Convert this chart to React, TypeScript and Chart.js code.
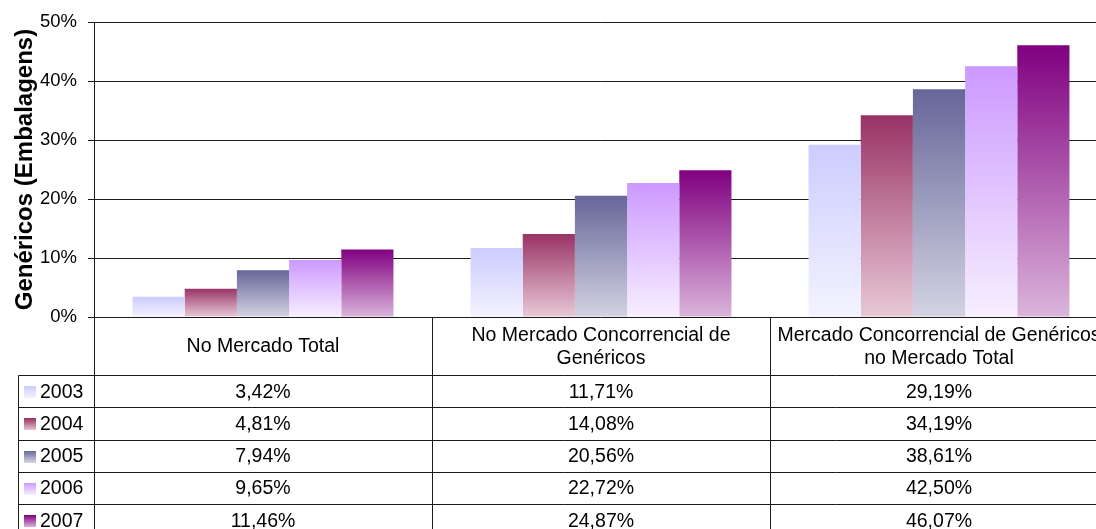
import React, { useEffect, useRef } from "react";
import { Chart, registerables } from "chart.js";

Chart.register(...registerables);

// ---- data ----
const categoryLines: string[][] = [
  ["No Mercado Total"],
  ["No Mercado Concorrencial de", "Genéricos"],
  ["Mercado Concorrencial de Genéricos", "no Mercado Total"],
];
const seriesLabels = ["2003", "2004", "2005", "2006", "2007"];
const values2003 = [3.42, 11.71, 29.19];
const values2004 = [4.81, 14.08, 34.19];
const values2005 = [7.94, 20.56, 38.61];
const values2006 = [9.65, 22.72, 42.5];
const values2007 = [11.46, 24.87, 46.07];
const seriesValues = [values2003, values2004, values2005, values2006, values2007];
const yTickValues = [0, 10, 20, 30, 40, 50];
const axisTitle = "Genéricos (Embalagens)";

// ---- styles ----
const topColors = ["#CCCCFF", "#993366", "#666699", "#CC99FF", "#800080"];
const bottomColors = ["#F3F3FF", "#E8C9D6", "#D3D3E3", "#F7EFFF", "#DBB5DB"];
const FONT = '"Liberation Sans", Arial, sans-serif';
const CANVAS_W = 1110;
const CANVAS_H = 529;

const fmt = (v: number) => v.toFixed(2).replace(".", ",") + "%";

const tablePlugin = {
  id: "dataTable",
  afterDraw(chart: any) {
    const { ctx, scales } = chart;
    const x = scales.x;
    const y = scales.y;
    const baseY = y.getPixelForValue(0);
    const n = categoryLines.length;
    const catW = x.getPixelForValue(1) - x.getPixelForValue(0);
    const bounds: number[] = [];
    for (let i = 0; i < n; i++) bounds.push(x.getPixelForValue(i) - catW / 2);
    bounds.push(x.getPixelForValue(n - 1) + catW / 2);
    const headerH = 58;
    const rowH = 32.25;
    const legendLeft = 18;
    const headerBottom = baseY + headerH;
    const a = (v: number) => Math.round(v) + 0.5;

    ctx.save();
    ctx.strokeStyle = "#1a1a1a";
    ctx.lineWidth = 1;
    ctx.beginPath();
    for (let i = 0; i < bounds.length; i++) {
      ctx.moveTo(a(bounds[i]), a(baseY));
      ctx.lineTo(a(bounds[i]), CANVAS_H);
    }
    ctx.moveTo(a(legendLeft), a(headerBottom));
    ctx.lineTo(a(legendLeft), CANVAS_H);
    for (let r = 0; r <= seriesLabels.length; r++) {
      const yy = a(headerBottom + r * rowH);
      ctx.moveTo(a(legendLeft), yy);
      ctx.lineTo(bounds[n], yy);
    }
    ctx.stroke();

    ctx.fillStyle = "#000";
    ctx.font = `19.5px ${FONT}`;
    ctx.textAlign = "center";
    ctx.textBaseline = "middle";
    const lh = 23.5;
    categoryLines.forEach((lines, i) => {
      const cx = x.getPixelForValue(i);
      const cy = baseY + headerH / 2;
      const start = cy - ((lines.length - 1) * lh) / 2;
      lines.forEach((t, j) => ctx.fillText(t, cx, start + j * lh + 1));
    });

    seriesLabels.forEach((lab, r) => {
      const cy = headerBottom + r * rowH + rowH / 2 + 1;
      const g = ctx.createLinearGradient(0, cy - 6, 0, cy + 6);
      g.addColorStop(0, topColors[r]);
      g.addColorStop(1, bottomColors[r]);
      ctx.fillStyle = g;
      ctx.fillRect(24, Math.round(cy - 6), 12, 12);
      ctx.fillStyle = "#000";
      ctx.textAlign = "left";
      ctx.fillText(lab, 40, cy);
      ctx.textAlign = "center";
      seriesValues[r].forEach((v, i) => {
        ctx.fillText(fmt(v), x.getPixelForValue(i), cy);
      });
    });
    ctx.restore();
  },
};

export default function App() {
  const ref = useRef<HTMLCanvasElement | null>(null);

  useEffect(() => {
    if (!ref.current) return;
    const chart = new Chart(ref.current, {
      type: "bar",
      data: {
        labels: categoryLines.map((l) => l.join(" ")),
        datasets: seriesLabels.map((label, si) => ({
          label,
          data: seriesValues[si],
          borderWidth: 0,
          barPercentage: 1,
          categoryPercentage: 0.772,
          backgroundColor: (c: any) => {
            const chartObj = c.chart;
            const sc = chartObj.scales;
            if (c.type !== "data" || !sc || !sc.y) return topColors[si];
            const v = c.raw as number;
            const top = sc.y.getPixelForValue(v);
            const bot = sc.y.getPixelForValue(0);
            if (!isFinite(top) || !isFinite(bot) || top === bot) return topColors[si];
            const g = chartObj.ctx.createLinearGradient(0, top, 0, bot);
            g.addColorStop(0, topColors[si]);
            g.addColorStop(1, bottomColors[si]);
            return g;
          },
        })),
      },
      options: {
        responsive: false,
        animation: false,
        layout: { padding: { top: 22, bottom: CANVAS_H - 317, left: 0, right: CANVAS_W - 1108 } },
        plugins: {
          legend: { display: false },
          tooltip: { enabled: false },
        },
        scales: {
          x: { display: false, offset: true },
          y: {
            min: 0,
            max: 50,
            afterBuildTicks: (s: any) => {
              s.ticks = yTickValues.map((v) => ({ value: v }));
            },
            afterFit: (s: any) => {
              s.width = 94;
            },
            ticks: {
              callback: (v: any) => v + "%",
              color: "#000",
              font: { family: FONT, size: 18.5 },
              padding: 11,
            },
            grid: { color: "#1a1a1a", lineWidth: 1, tickLength: 6, drawTicks: true },
            border: { display: true, color: "#1a1a1a", width: 1 },
            title: {
              display: true,
              text: axisTitle,
              color: "#000",
              font: { family: FONT, size: 24, weight: "bold" },
              padding: { top: 11, bottom: 0 },
            },
          },
        },
      },
      plugins: [tablePlugin],
    });
    return () => chart.destroy();
  }, []);

  return (
    <div
      style={{
        position: "fixed",
        left: 0,
        top: 0,
        width: 1096,
        height: 529,
        overflow: "hidden",
        background: "#fff",
      }}
    >
      <canvas ref={ref} width={CANVAS_W} height={CANVAS_H} style={{ display: "block" }} />
    </div>
  );
}
